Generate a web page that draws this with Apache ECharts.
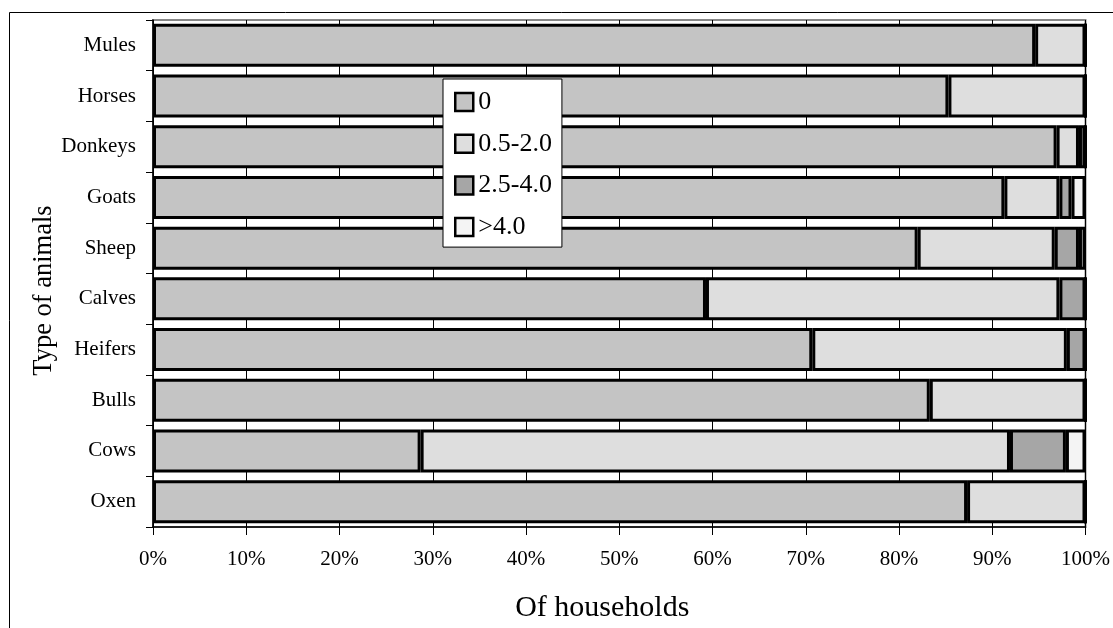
<!DOCTYPE html>
<html>
<head>
<meta charset="utf-8">
<script src="https://cdn.jsdelivr.net/npm/echarts@6/dist/echarts.min.js"></script>
<style>
html,body{margin:0;padding:0;background:#fff;}
#chart{width:1113px;height:628px;}
</style>
</head>
<body>
<div id="chart"></div>
<script>
const categories = ['Mules','Horses','Donkeys','Goats','Sheep','Calves','Heifers','Bulls','Cows','Oxen'];
const seriesNames = ['0','0.5-2.0','2.5-4.0','>4.0'];
const s0 = [94.6, 85.3, 96.9, 91.3, 82.0, 59.3, 70.7, 83.3, 28.7, 87.3];
const s1 = [5.4, 14.7, 2.4, 5.9, 14.7, 37.9, 27.3, 16.7, 63.2, 12.7];
const s2 = [0, 0, 0.7, 1.3, 2.6, 2.8, 2.0, 0, 6.0, 0];
const s3 = [0, 0, 0, 1.5, 0.7, 0, 0, 0, 2.1, 0];
const xTicks = [0,10,20,30,40,50,60,70,80,90,100];

const FONT = '"Liberation Serif","Times New Roman",serif';
const fills = ['#c4c4c4','#dedede','#a6a6a6','#f4f4f4'];
const values = [s0, s1, s2, s3];

const chart = echarts.init(document.getElementById('chart'));
chart.setOption({
  animation: false,
  backgroundColor: '#fff',
  graphic: [{
    type: 'rect', silent: true, z: 0,
    shape: {x: 9.5, y: 12.5, width: 1300, height: 800},
    style: {fill: null, stroke: '#000', lineWidth: 1}
  }],
  grid: {left: 153, right: 25, top: 20, bottom: 90, show: true, borderColor: '#888', borderWidth: 2, backgroundColor: 'transparent'},
  legend: {
    orient: 'vertical', left: 443, top: 79,
    backgroundColor: '#fff', borderColor: '#000', borderWidth: 1,
    padding: [10, 10, 7, 11],
    itemWidth: 18, itemHeight: 18, itemGap: 15.7,
    icon: 'rect',
    itemStyle: {borderColor: '#000', borderWidth: 2.5},
    textStyle: {fontFamily: FONT, fontSize: 26, color: '#000', lineHeight: 26},
    data: seriesNames
  },
  xAxis: {
    type: 'value', min: xTicks[0], max: xTicks[xTicks.length-1], interval: 10,
    name: 'Of households', nameLocation: 'middle', nameGap: 66,
    nameTextStyle: {fontFamily: FONT, fontSize: 30, color: '#000', padding: [0, 34, 0, 0]},
    axisLine: {show: true, lineStyle: {color: '#000', width: 1.5}},
    axisTick: {show: true, length: 8, lineStyle: {color: '#000'}},
    axisLabel: {formatter: '{value}%', fontFamily: FONT, fontSize: 21, color: '#000', margin: 22},
    splitLine: {show: true, lineStyle: {color: '#000', width: 1}}
  },
  yAxis: {
    type: 'category', data: categories, inverse: true,
    name: 'Type of animals', nameLocation: 'middle', nameGap: 95, nameRotate: 90,
    nameMoveOverlap: false,
    nameTextStyle: {fontFamily: FONT, fontSize: 26.5, color: '#000', padding: [0, 34, 0, 0]},
    axisLine: {show: true, lineStyle: {color: '#000', width: 1.5}},
    axisTick: {show: true, length: 7, lineStyle: {color: '#000'}},
    axisLabel: {fontFamily: FONT, fontSize: 21, color: '#000', margin: 17},
    splitLine: {show: false}
  },
  series: seriesNames.map((n, i) => ({
    name: n, type: 'bar', stack: 'total', barWidth: 43,
    itemStyle: {color: fills[i], borderColor: '#000', borderWidth: 3},
    emphasis: {disabled: true},
    data: values[i]
  }))
});
</script>
</body>
</html>
